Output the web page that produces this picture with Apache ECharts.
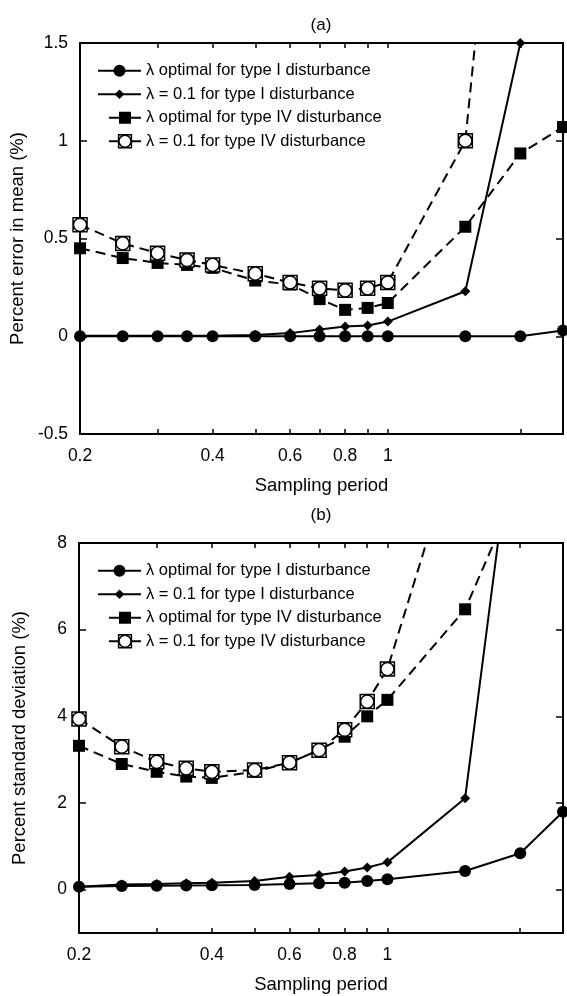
<!DOCTYPE html>
<html><head><meta charset="utf-8">
<script src="https://cdn.jsdelivr.net/npm/echarts@6/dist/echarts.min.js"></script>
<style>html,body{margin:0;padding:0;background:#fff}#c{width:567px;height:996px}</style>
</head><body><div id="c"></div>
<script>
// ---------- data ----------
const samplingPeriods = [0.2, 0.25, 0.3, 0.35, 0.4, 0.5, 0.6, 0.7, 0.8, 0.9, 1, 1.5, 2, 2.5];
const seriesNames = [
  'λ optimal for type I disturbance',
  'λ = 0.1 for type I disturbance',
  'λ optimal for type IV disturbance',
  'λ = 0.1 for type IV disturbance'
];
// (a) Percent error in mean (%)
const meanOptI  = [0, 0, 0, 0, 0, 0, 0, 0, 0, 0, 0, 0, 0, 0.03];
const meanFixI  = [0.003, 0.003, 0.003, 0.003, 0.003, 0.006, 0.016, 0.035, 0.05, 0.055, 0.075, 0.23, 1.5, null];
const meanOptIV = [0.45, 0.40, 0.375, 0.365, 0.35, 0.285, 0.265, 0.19, 0.135, 0.145, 0.17, 0.56, 0.935, 1.07];
const meanFixIV = [0.57, 0.475, 0.425, 0.39, 0.365, 0.32, 0.275, 0.245, 0.235, 0.245, 0.275, 1.0, 3.8, null];
// (b) Percent standard deviation (%)
const sdOptI  = [0.07, 0.085, 0.09, 0.095, 0.1, 0.11, 0.13, 0.15, 0.16, 0.2, 0.24, 0.43, 0.84, 1.8];
const sdFixI  = [0.07, 0.12, 0.13, 0.15, 0.16, 0.2, 0.3, 0.34, 0.42, 0.51, 0.63, 2.11, 12, null];
const sdOptIV = [3.32, 2.9, 2.72, 2.61, 2.58, 2.72, 2.93, 3.22, 3.53, 4.0, 4.38, 6.47, 9.4, null];
const sdFixIV = [3.94, 3.3, 2.95, 2.8, 2.72, 2.76, 2.93, 3.22, 3.69, 4.34, 5.09, 10.9, null, null];
// axes
const xTickValues  = [0.2, 0.3, 0.4, 0.5, 0.6, 0.7, 0.8, 0.9, 1, 2];
const xLabelValues = [0.2, 0.4, 0.6, 0.8, 1];
const xLabelTexts  = ['0.2', '0.4', '0.6', '0.8', '1'];
const meanYTicks = [-0.5, 0, 0.5, 1, 1.5];
const meanYLabels = ['-0.5', '0', '0.5', '1', '1.5'];
const sdYTicks = [0, 2, 4, 6, 8];
const sdYLabels = ['0', '2', '4', '6', '8'];
const panelTitles = ['(a)', '(b)'];
const xName = 'Sampling period';
const yNames = ['Percent error in mean (%)', 'Percent standard deviation (%)'];

// ---------- styling ----------
const FONT = '"Liberation Sans", Arial, Helvetica, sans-serif';
const BLACK = '#000';
// open marker: square outline with a circle inside (bezier circle)
const OPEN_SYM = 'path://M0 0L20 0L20 20L0 20Z' +
  'M10 0.6C15.19 0.6 19.4 4.81 19.4 10C19.4 15.19 15.19 19.4 10 19.4C4.81 19.4 0.6 15.19 0.6 10C0.6 4.81 4.81 0.6 10 0.6Z';
const seriesLook = [
  {symbol: 'circle', size: 12, dash: 'solid', fill: BLACK, bw: 0},
  {symbol: 'diamond', size: 10, dash: 'solid', fill: BLACK, bw: 0},
  {symbol: 'rect', size: 12, dash: [10, 6], fill: BLACK, bw: 0},
  {symbol: OPEN_SYM, size: 14, dash: [10, 6], fill: '#fff', bw: 1.5}
];
const drawOrder = [1, 0, 2, 3];

const panels = [
  {top: 43, height: 391, yMin: -0.5, yMax: 1.5, yTicks: meanYTicks, yLabels: meanYLabels,
   data: [meanOptI, meanFixI, meanOptIV, meanFixIV], titleY: 25},
  {top: 543, height: 390, yMin: -1, yMax: 8, yTicks: sdYTicks, yLabels: sdYLabels,
   data: [sdOptI, sdFixI, sdOptIV, sdFixIV], titleY: 515}
];
const LEFT = 79, RIGHT = 4;
const legendRowOffsets = [27.5, 51, 74.5, 98];
const legendLeft = [97, 97, 108, 108];
const legendItemW = [43, 43, 32, 32];
const legendItemH = [15, 12, 15, 16];

const grid = [], xAxis = [], yAxis = [], series = [], legend = [], graphic = [];
const labelStyle = {color: BLACK, fontSize: 17.5, fontFamily: FONT};
const axisLine = {show: true, onZero: false, lineStyle: {color: BLACK, width: 2}};

panels.forEach((p, gi) => {
  grid.push({left: LEFT, right: RIGHT, top: p.top, height: p.height, containLabel: false});
  const xCommon = {gridIndex: gi, type: 'log', logBase: 10, min: 0.2, max: 2.5,
    axisLine: axisLine, splitLine: {show: false}, minorTick: {show: false}, minorSplitLine: {show: false}};
  xAxis.push(Object.assign({}, xCommon, {
    position: 'bottom',
    axisTick: {show: true, inside: true, length: 5, customValues: xTickValues, lineStyle: {color: BLACK, width: 1.5}},
    axisLabel: Object.assign({show: true, margin: 13, customValues: xLabelValues,
      formatter: v => { const i = xLabelValues.findIndex(t => Math.abs(t - v) < 1e-6); return i >= 0 ? xLabelTexts[i] : ''; }}, labelStyle),
    name: xName, nameLocation: 'middle', nameGap: 42,
    nameTextStyle: {color: BLACK, fontSize: 18.5, fontFamily: FONT}
  }));
  xAxis.push(Object.assign({}, xCommon, {
    position: 'top',
    axisTick: {show: true, inside: true, length: 5, customValues: xTickValues, lineStyle: {color: BLACK, width: 1.5}},
    axisLabel: {show: false}
  }));
  const yCommon = {gridIndex: gi, type: 'value', min: p.yMin, max: p.yMax,
    axisLine: axisLine, splitLine: {show: false}};
  yAxis.push(Object.assign({}, yCommon, {
    position: 'left',
    axisTick: {show: true, inside: true, length: 7, customValues: p.yTicks, lineStyle: {color: BLACK, width: 1.5}},
    axisLabel: Object.assign({show: true, margin: 12, customValues: p.yTicks,
      formatter: v => { const i = p.yTicks.findIndex(t => Math.abs(t - v) < 1e-6); return i >= 0 ? p.yLabels[i] : ''; }}, labelStyle),
    name: yNames[gi], nameLocation: 'middle', nameGap: 50,
    nameTextStyle: {color: BLACK, fontSize: 18.5, fontFamily: FONT}
  }));
  yAxis.push(Object.assign({}, yCommon, {
    position: 'right',
    axisTick: {show: true, inside: true, length: 7, customValues: p.yTicks, lineStyle: {color: BLACK, width: 1.5}},
    axisLabel: {show: false}
  }));

  drawOrder.forEach(si => {
    const look = seriesLook[si];
    series.push({
      type: 'line', name: seriesNames[si],
      xAxisIndex: gi * 2, yAxisIndex: gi * 2,
      data: samplingPeriods.map((x, i) => [x, p.data[si][i]]),
      symbol: look.symbol, symbolSize: look.size, showSymbol: true,
      clip: true, connectNulls: false, animation: false, z: 2 + si,
      lineStyle: {color: BLACK, width: 2, type: look.dash},
      itemStyle: {color: look.fill, borderColor: BLACK, borderWidth: look.bw, borderType: 'solid', opacity: 1},
      emphasis: {disabled: true}
    });
  });

  seriesNames.forEach((nm, si) => {
    legend.push({
      data: [nm], orient: 'vertical', selectedMode: false, padding: 0,
      left: legendLeft[si], top: p.top + legendRowOffsets[si] - 8.25,
      itemWidth: legendItemW[si], itemHeight: legendItemH[si],
      textStyle: {color: BLACK, fontSize: 16.5, fontFamily: FONT},
      lineStyle: {type: 'solid', width: 2, color: BLACK},
      itemStyle: si === 3 ? {borderWidth: 1.5, borderColor: BLACK, borderType: 'solid', color: '#fff'} : {borderWidth: 0}
    });
  });

  graphic.push({type: 'text', x: LEFT + (567 - RIGHT - LEFT) / 2, y: p.titleY,
    style: {text: panelTitles[gi], fill: BLACK, fontSize: 17, fontFamily: FONT,
      textAlign: 'center', textVerticalAlign: 'middle'}});
});

const chart = echarts.init(document.getElementById('c'), null, {renderer: 'canvas'});
chart.setOption({
  backgroundColor: '#fff',
  animation: false,
  grid, xAxis, yAxis, series, legend, graphic
});
</script></body></html>
